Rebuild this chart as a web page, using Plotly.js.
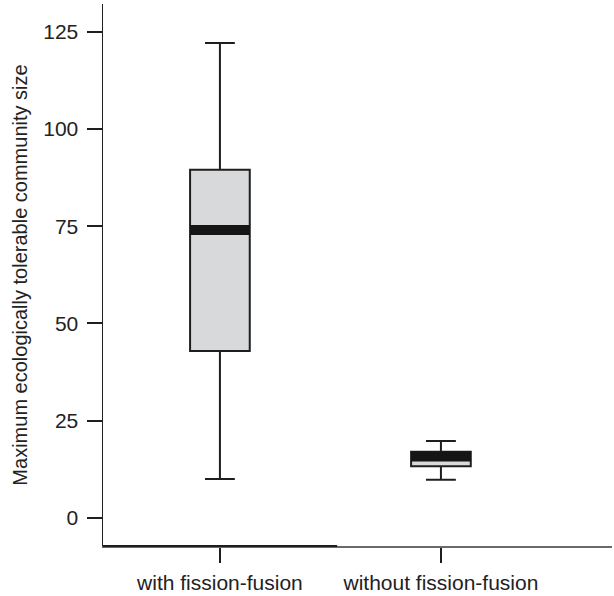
<!DOCTYPE html>
<html>
<head>
<meta charset="utf-8">
<script src="https://cdn.plot.ly/plotly-3.0.1.min.js"></script>
<style>
  html, body { margin: 0; padding: 0; background: #fff; }
  #chart { width: 614px; height: 596px; }
</style>
</head>
<body>
<div id="chart"></div>
<script>
// Data
const categories = ["with fission-fusion", "without fission-fusion"];
const positions = [1, 2];
const lowerWhisker = [10, 9.8];
const q1Values = [42.9, 13.3];
const medianValues = [74.0, 15.8];
const q3Values = [89.5, 17.0];
const upperWhisker = [122.1, 19.8];
const yTicks = [0, 25, 50, 75, 100, 125];

const boxWidth = 0.27;

const boxTrace = {
  type: "box",
  x: positions,
  q1: q1Values,
  median: medianValues,
  q3: q3Values,
  lowerfence: lowerWhisker,
  upperfence: upperWhisker,
  width: boxWidth,
  whiskerwidth: 0.5,
  fillcolor: "#d8d9db",
  line: { color: "#1e1e1e", width: 2 },
  boxpoints: false,
  hoverinfo: "skip",
  showlegend: false
};

// Thick median bars
const mx = [], my = [];
positions.forEach((p, i) => {
  mx.push(p - boxWidth / 2, p + boxWidth / 2, null);
  my.push(medianValues[i], medianValues[i], null);
});
const medianTrace = {
  type: "scatter",
  mode: "lines",
  x: mx,
  y: my,
  line: { color: "#151515", width: 10 },
  hoverinfo: "skip",
  showlegend: false
};

const layout = {
  width: 614,
  height: 596,
  margin: { l: 103, r: 2, t: 4, b: 50 },
  paper_bgcolor: "#ffffff",
  plot_bgcolor: "#ffffff",
  font: { family: "Liberation Sans, Arial, sans-serif", size: 20, color: "#222" },
  showlegend: false,
  xaxis: {
    range: [0.471, 2.774],
    tickmode: "array",
    tickvals: positions,
    ticktext: categories,
    ticks: "outside",
    ticklen: 15,
    tickwidth: 2,
    tickcolor: "#1e1e1e",
    ticklabelstandoff: 2,
    showline: true,
    linecolor: "#6a6a6a",
    linewidth: 2,
    showgrid: false,
    zeroline: false,
    tickfont: { size: 21, color: "#222" },
    fixedrange: true
  },
  yaxis: {
    range: [-7.2, 132.1],
    tickmode: "array",
    tickvals: yTicks,
    ticktext: yTicks.map(String),
    ticks: "outside",
    ticklen: 15,
    tickwidth: 2,
    tickcolor: "#1e1e1e",
    ticklabelstandoff: 4,
    showline: true,
    linecolor: "#1e1e1e",
    linewidth: 1.5,
    showgrid: false,
    zeroline: false,
    tickfont: { size: 21, color: "#222" },
    title: { text: "Maximum ecologically tolerable community size", font: { size: 20, color: "#222" }, standoff: 10 },
    fixedrange: true
  },
  shapes: [
    {
      type: "line", xref: "paper", yref: "paper",
      x0: 0, x1: 0.46, y0: 0, y1: 0,
      line: { color: "#1e1e1e", width: 2 }
    }
  ]
};

Plotly.newPlot("chart", [boxTrace, medianTrace], layout, { displayModeBar: false, staticPlot: true });
</script>
</body>
</html>
